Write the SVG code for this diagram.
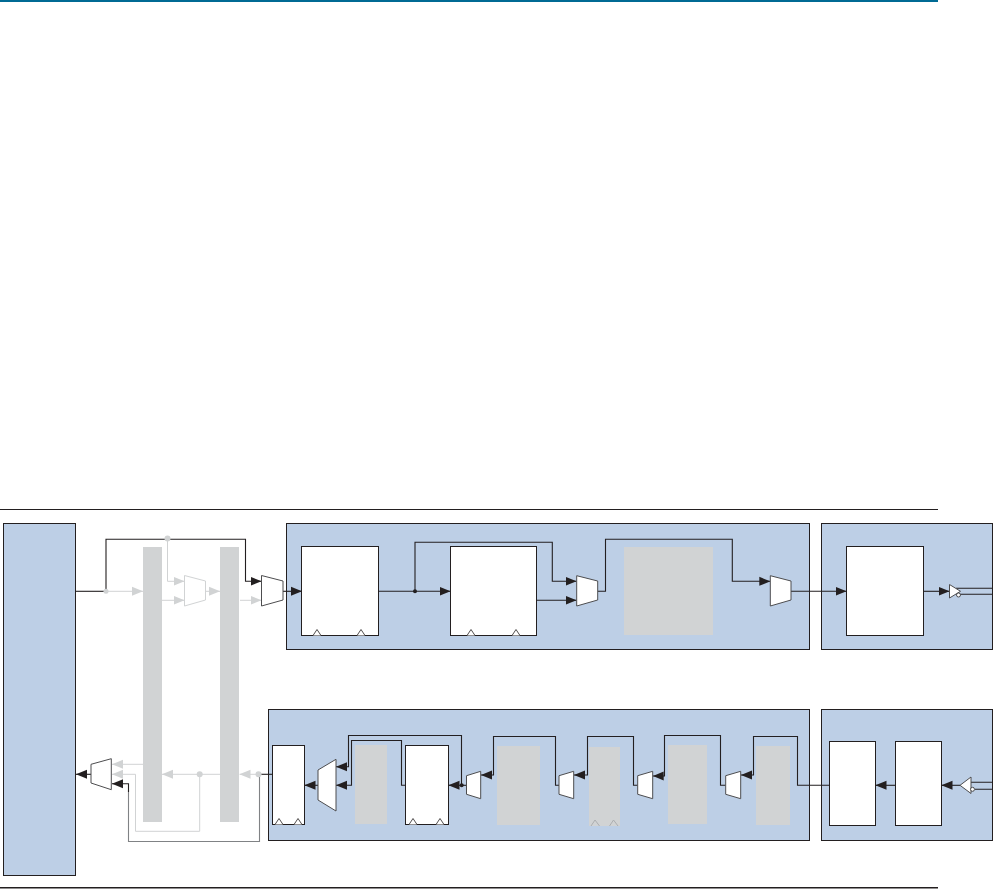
<svg xmlns="http://www.w3.org/2000/svg" width="1007" height="889" viewBox="0 0 1007 889">
<defs>
<marker id="ak" markerUnits="userSpaceOnUse" markerWidth="11" markerHeight="10" refX="11" refY="5" orient="auto"><path d="M0 0.5L11 5L0 9.5Z" fill="#231f20"/></marker>
<marker id="ag" markerUnits="userSpaceOnUse" markerWidth="11" markerHeight="10" refX="11" refY="5" orient="auto"><path d="M0 0.5L11 5L0 9.5Z" fill="#d1d3d4"/></marker>
</defs>
<style>
.panel{fill:#bdcfe6;stroke:#231f20;stroke-width:1}
.box{fill:#fff;stroke:#231f20;stroke-width:1}
.shade{fill:#d1d3d4}
.mux{fill:#fff;stroke:#4d4d4f;stroke-width:1}
.gmux{fill:#fff;stroke:#d1d3d4;stroke-width:1}
.k{fill:none;stroke:#231f20;stroke-width:1.1}
.g{fill:none;stroke:#d1d3d4;stroke-width:1}
.m{fill:none;stroke:#808285;stroke-width:1.1}
.ka{marker-end:url(#ak)}
.ga{marker-end:url(#ag)}
.tri{fill:#fff;stroke:#231f20;stroke-width:.8}
.gtri{fill:none;stroke:#a7a9ac;stroke-width:.9}
</style>
<rect x="0" y="0" width="938" height="2" fill="#006a94"/>
<rect x="0" y="509" width="938" height="1" fill="#231f20"/>
<rect x="0" y="887" width="938" height="1.5" fill="#231f20"/>

<g id="fabric"><rect class="panel" x="3.5" y="523.5" width="72" height="352"/></g>
<g id="tx-pcs"><rect class="panel" x="286.5" y="523.5" width="523" height="126"/></g>
<g id="tx-pma"><rect class="panel" x="821.5" y="523.5" width="171" height="126"/></g>
<g id="rx-pcs"><rect class="panel" x="268.5" y="709.5" width="541" height="131"/></g>
<g id="rx-pma"><rect class="panel" x="821.5" y="709.5" width="171" height="131"/></g>

<g id="bar-1"><rect class="shade" x="143" y="547" width="19" height="275"/></g>
<g id="bar-2"><rect class="shade" x="220" y="547" width="19" height="275"/></g>

<g id="tx-box-1"><rect class="box" x="301.5" y="546.5" width="77" height="89"/><path class="tri" d="M313 635.5L317 629.5L321 635.5M357 635.5L361 629.5L365 635.5"/></g>
<g id="tx-box-2"><rect class="box" x="450.5" y="546.5" width="86" height="89"/><path class="tri" d="M467 635.5L471 629.5L475 635.5M512 635.5L516 629.5L520 635.5"/></g>
<g id="tx-shade"><rect class="shade" x="624" y="547" width="89" height="88"/></g>
<g id="tx-box-3"><rect class="box" x="846.5" y="546.5" width="77" height="89"/></g>

<g id="rx-box-a"><rect class="box" x="272.5" y="745.5" width="32" height="79"/><path class="tri" d="M275 824.5L279 818.5L283 824.5M294 824.5L298 818.5L302 824.5"/></g>
<g id="rx-shade-1"><rect class="shade" x="355" y="745" width="32" height="79"/></g>
<g id="rx-box-b"><rect class="box" x="405.5" y="745.5" width="43" height="79"/><path class="tri" d="M409 824.5L413 818.5L417 824.5M436 824.5L440 818.5L444 824.5"/></g>
<g id="rx-shade-2"><rect class="shade" x="497" y="746" width="43" height="79"/></g>
<g id="rx-shade-3"><rect class="shade" x="589" y="747" width="31" height="79"/><path class="gtri" d="M591 826L595 820L599.5 826M609.5 826L613.5 820L618 826"/></g>
<g id="rx-shade-4"><rect class="shade" x="668" y="745" width="39" height="79"/></g>
<g id="rx-shade-5"><rect class="shade" x="756" y="746" width="34" height="79"/></g>
<g id="rx-box-g"><rect class="box" x="829.5" y="741.5" width="46" height="84"/></g>
<g id="rx-box-h"><rect class="box" x="895.5" y="741.5" width="46" height="84"/></g>

<g id="connectors">
<path class="g ga" d="M106 591.3H143"/>
<path class="g ga" d="M167.5 539V581.3H184.5"/>
<path class="g ga" d="M162 600.3H184.5"/>
<path class="g ga" d="M205.5 591.3H220"/>
<path class="g ga" d="M240 600.3H261.5"/>
<path class="g ga" d="M220 774.3H162"/>
<path class="g ga" d="M258 774.3H239.5"/>
<path class="g ga" d="M143 764.3H112"/>
<path class="g ga" d="M199.7 774.3V831.3H135.5V774.3H112"/>
<path class="k" d="M75.5 591.3H106"/>
<path class="k ka" d="M106 591.3V539.3H245.5V581.3H261.5"/>
<path class="k ka" d="M283 591.3H302"/>
<path class="k ka" d="M378.5 591.3H450.5"/>
<path class="k ka" d="M415 591.3V542.3H552.3V581.3H576.5"/>
<path class="k ka" d="M536.5 600.3H576.5"/>
<path class="k ka" d="M597.7 591.3H605.5V539.3H732.3V581.3H770.3"/>
<path class="k ka" d="M791 591.3H846.5"/>
<path class="k ka" d="M923.5 591.3H949.5"/>
<path class="k" d="M956 588.3H992.5M960 594.3H992.5"/>
<path class="k ka" d="M91 774.3H76"/>
<path class="k" d="M272.5 774.3H259.5"/>
<path class="m" d="M259.5 774.3V841.5H128.5V790"/>
<path class="k ka" d="M128.5 792V783.7H112"/>
<path class="k ka" d="M318 785.3H304.5"/>
<path class="k ka" d="M461.5 785.3V735.5H348.5V766.7H336"/>
<path class="k ka" d="M405.5 785.3H401.5V740.5H351.5V785.3H336"/>
<path class="k ka" d="M466.5 785.3H448.5"/>
<path class="k ka" d="M559 785.3H555.5V736.5H493.5V775H481"/>
<path class="k ka" d="M637.7 785.3H633.5V736.5H587.5V775H574"/>
<path class="k ka" d="M725.7 785.3H720.5V735.5H664.5V776H652.7"/>
<path class="k ka" d="M829.5 785.3H797.5V736.5H753.5V775H741"/>
<path class="k ka" d="M895.5 785.3H875.5"/>
<path class="k ka" d="M960 785.3H941.5"/>
<path class="k" d="M968 782.3H992.5M975 789.3H992.5"/>
</g>

<g id="dots">
<circle cx="106" cy="591.3" r="2.5" fill="#d1d3d4"/>
<circle cx="167.5" cy="538.5" r="3" fill="#d1d3d4"/>
<circle cx="199.7" cy="774.3" r="3" fill="#d1d3d4"/>
<circle cx="258.5" cy="774.3" r="3" fill="#d1d3d4"/>
<circle cx="415" cy="591.3" r="2" fill="#231f20"/>
<circle cx="461.7" cy="785.3" r="2" fill="#231f20"/>
</g>

<g id="gmux-1"><path class="gmux" d="M184.5 575.5L205.5 581V600L184.5 606Z"/></g>
<g id="mux-1"><path class="mux" d="M261.5 575.5L283 581V600L261.5 606Z"/></g>
<g id="mux-2"><path class="mux" d="M576.7 575.7L597.7 581V600L576.7 606Z"/></g>
<g id="mux-3"><path class="mux" d="M770.3 575.7L791 581V600L770.3 606Z"/></g>
<g id="mux-4"><path class="mux" d="M111.3 758.7L91 764.3V783L111.3 789.7Z"/></g>
<g id="mux-5"><path class="mux" d="M336 759.3L318 770V800L336 811Z"/></g>
<g id="mux-6"><path class="mux" d="M480.7 771.3L466.5 775.7V794.3L480.7 798.7Z"/></g>
<g id="mux-7"><path class="mux" d="M573.7 771.3L559 775.7V794.3L573.7 798.7Z"/></g>
<g id="mux-8"><path class="mux" d="M652.7 771.3L637.7 775.7V794.3L652.7 798.7Z"/></g>
<g id="mux-9"><path class="mux" d="M740.7 771.3L725.7 775.7V794.3L740.7 798.7Z"/></g>

<g id="tx-buffer"><path class="mux" d="M949.5 584.5L960.5 591.3L949.5 598Z"/><circle class="mux" cx="958.5" cy="595" r="2"/></g>
<g id="rx-buffer"><path class="mux" d="M971 777L960 785.3L971 793.5Z"/><circle class="mux" cx="972.5" cy="789.3" r="2"/></g>
</svg>
